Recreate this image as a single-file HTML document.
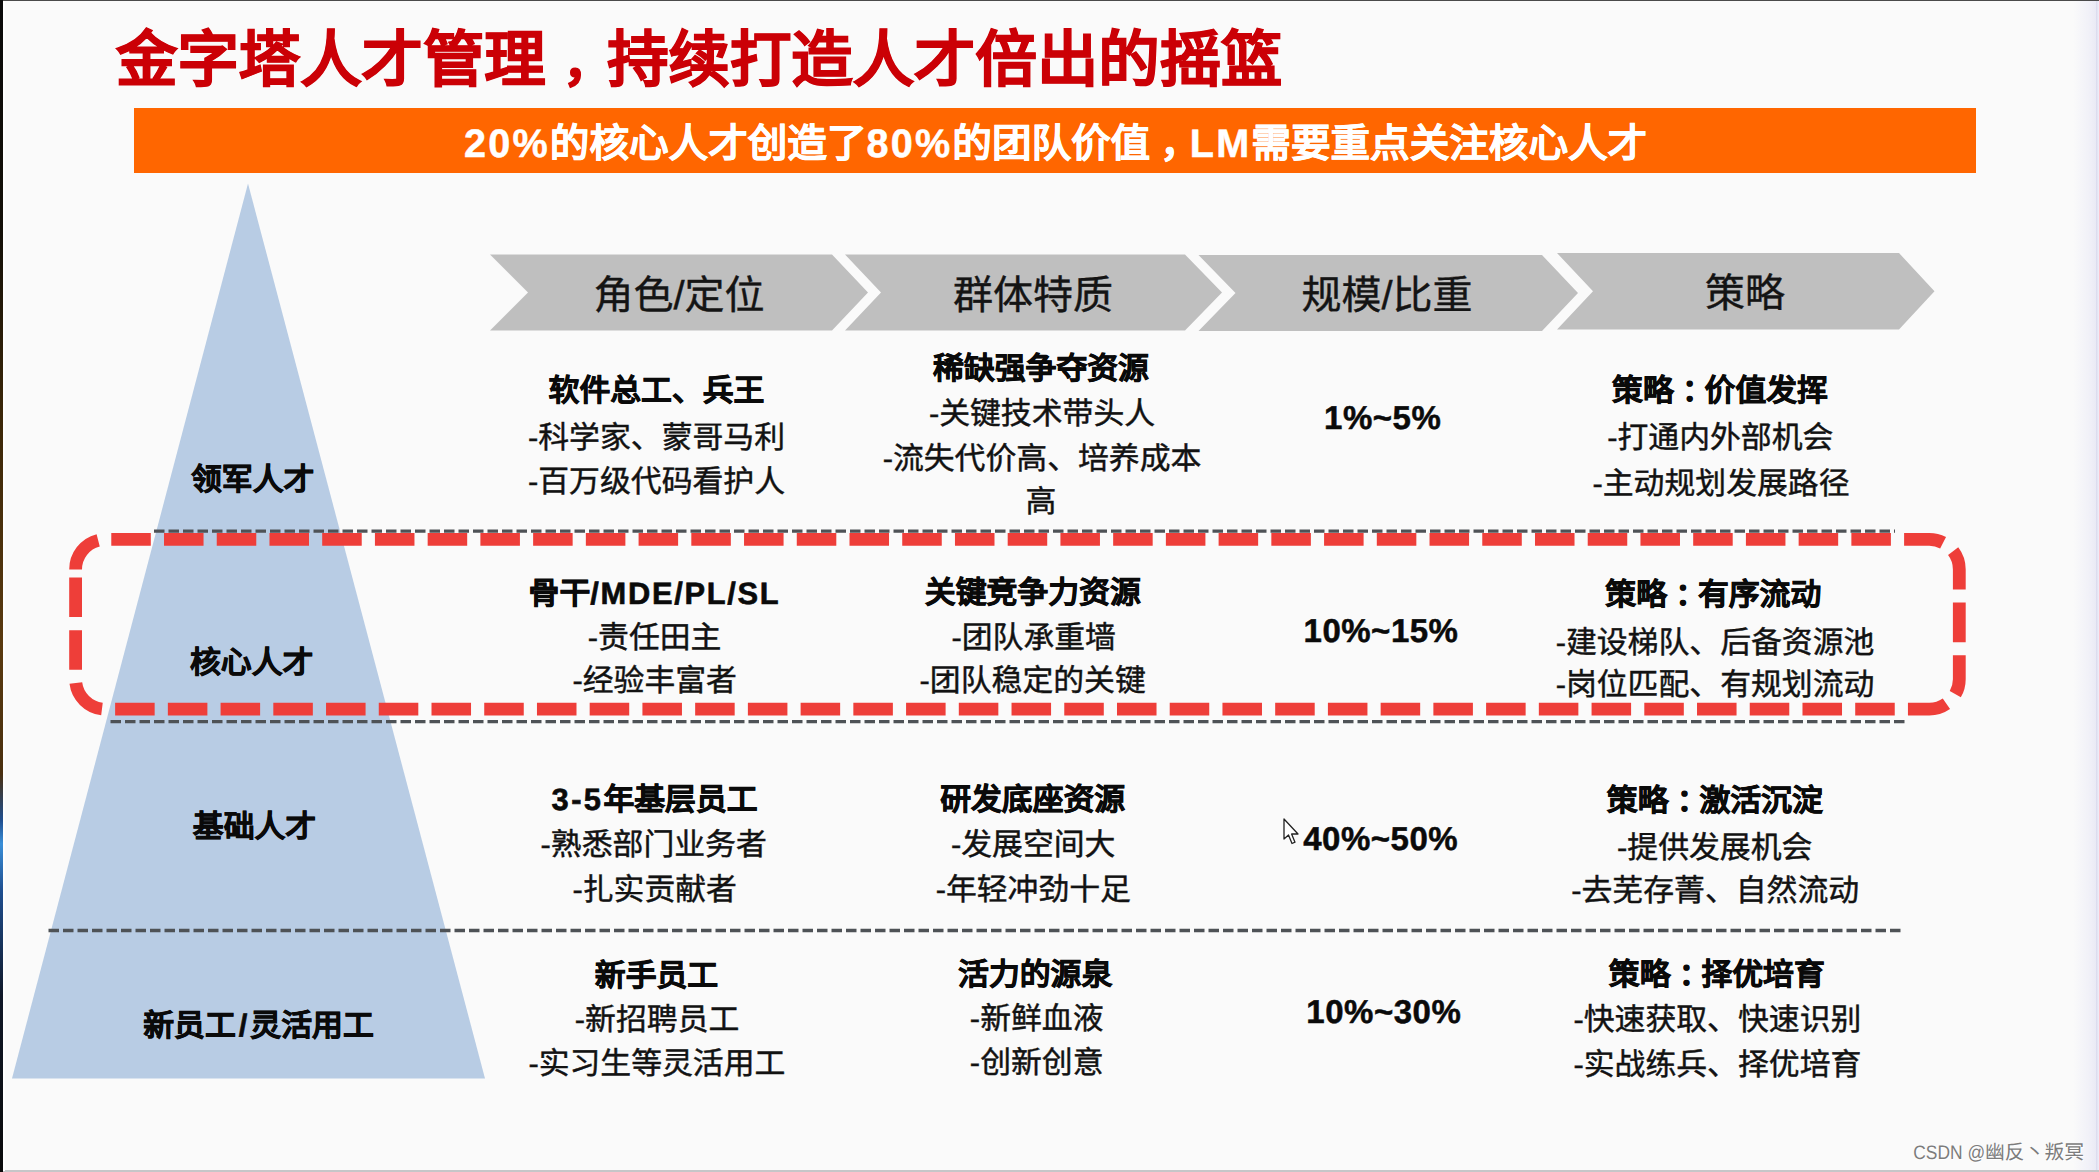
<!DOCTYPE html>
<html lang="zh-CN">
<head>
<meta charset="utf-8">
<title>金字塔人才管理</title>
<style>
html,body{margin:0;padding:0;}
body{width:2099px;height:1172px;overflow:hidden;background:#fafafa;font-family:"Liberation Sans",sans-serif;color:#111;text-rendering:geometricPrecision;}
#stage{position:relative;width:2099px;height:1172px;overflow:hidden;background:#fafafa;}
.abs{position:absolute;}
.t{position:absolute;white-space:nowrap;transform:translate(-50%,-50%);line-height:1;font-size:30.85px;color:#121212;-webkit-text-stroke:0.45px #121212;margin-top:0.5px;}
.b{font-weight:700;color:#0a0a0a;-webkit-text-stroke:0.6px #0a0a0a;margin-top:1px;}
.n{font-weight:700;font-size:33px;color:#0a0a0a;-webkit-text-stroke:0.5px #0a0a0a;letter-spacing:0.5px;}
.c{position:relative;left:0.27em;}
.la{letter-spacing:1.7px;}
.sl{margin:0 3px;}
#title{position:absolute;left:116px;top:29.5px;font-size:61.4px;font-weight:700;color:#cb0006;-webkit-text-stroke:1px #cb0006;white-space:nowrap;line-height:61px;}
#title .c{left:0.32em;font-size:0.85em;margin-right:0.1765em;}
#banner{position:absolute;left:134px;top:108px;width:1842px;height:65px;background:#ff6600;}
#bannertxt{position:absolute;left:464px;top:144.5px;transform:translate(0,-50%);font-size:39.6px;font-weight:700;color:#fff;-webkit-text-stroke:0.5px #fff;white-space:nowrap;line-height:1;}
#bannertxt .la{letter-spacing:2.2px;}
#bannertxt .c{left:0.25em;}
.ch{position:absolute;white-space:nowrap;transform:translate(-50%,-50%);line-height:1;font-size:40px;color:#141414;-webkit-text-stroke:0.4px #141414;}
#wm{position:absolute;right:15px;top:1140.5px;font-size:19.8px;color:#7c7c7c;white-space:nowrap;line-height:24px;text-shadow:0 0 1px #fff,1px 1px 1px #fff;}
#wm .wl{display:inline-block;font-size:17.4px;transform:scale(1,1.12);transform-origin:50% 78%;white-space:pre;}
</style>
</head>
<body>
<div id="stage">

<div class="abs" style="left:2073px;top:0;width:26px;height:1172px;background:linear-gradient(90deg,#fafafa 0%,#f1f1f8 60%,#eaeaf5 88%,#dcdcee 90%,#f0f0fa 100%);"></div>
<div class="abs" style="left:0;top:0;width:2099px;height:1px;background:#4a4a4a;"></div>
<div class="abs" style="left:0;top:1170px;width:2099px;height:2px;background:#c6c6c8;"></div>
<div class="abs" style="left:2.5px;top:1px;width:2px;height:1170px;background:#ffffff;"></div>
<div class="abs" style="left:0;top:0;width:2.5px;height:1172px;background:linear-gradient(180deg,#0a0a0a 0%,#141008 20%,#3a2608 35%,#5a3a10 55%,#4a3010 66%,#1f4f90 70%,#3a8fd8 72%,#1f4f90 76%,#101828 85%,#0a0a0a 100%);"></div>
<div id="title">金字塔人才管理<span class="c">，</span>持续打造人才倍出的摇篮</div>
<div id="banner"></div><div id="bannertxt"><span class="la">20%</span>的核心人才创造了<span class="la">80%</span>的团队价值<span class="c">，</span><span class="la">LM</span>需要重点关注核心人才</div>
<svg class="abs" style="left:0;top:0" width="2099" height="1172" viewBox="0 0 2099 1172">
<polygon points="248,183.5 485,1078.5 12,1078.5" fill="#b8cce4"/>
<polygon points="490,254.5 832,254.5 868,292.5 832,330.5 490,330.5 528,292.5" fill="#bfbfbf"/>
<polygon points="845,254.5 1185,254.5 1222,292.5 1185,330.5 845,330.5 881,292.5" fill="#bfbfbf"/>
<polygon points="1198.5,255 1542,255 1578,293.0 1542,331 1198.5,331 1235.5,293.0" fill="#bfbfbf"/>
<polygon points="1557,253 1899,253 1934.5,291.25 1899,329.5 1557,329.5 1593,291.25" fill="#bfbfbf"/>
<line x1="154" y1="531.2" x2="1895" y2="531.2" stroke="#4e5256" stroke-width="3.3" stroke-dasharray="10.5 4"/>
<line x1="110.5" y1="721.7" x2="1905" y2="721.7" stroke="#4e5256" stroke-width="3.3" stroke-dasharray="10.5 4"/>
<line x1="48.5" y1="930.5" x2="1903.5" y2="930.5" stroke="#4e5256" stroke-width="3.3" stroke-dasharray="10.5 4"/>
<path d="M75.6,569.4 A30,30 0 0 1 105.6,539.4 H1929.3 A30,30 0 0 1 1959.3,569.4 V679.2 A30,30 0 0 1 1929.3,709.2 H105.6 A30,30 0 0 1 75.6,679.2 Z" fill="none" stroke="#ee3e39" stroke-width="12.8" stroke-dasharray="39.53 13.2"/>
</svg>
<div class="ch" style="left:679px;top:296px">角色/定位</div>
<div class="ch" style="left:1033px;top:296px">群体特质</div>
<div class="ch" style="left:1387px;top:296px">规模/比重</div>
<div class="ch" style="left:1745px;top:294px">策略</div>
<div class="t b" style="left:656.5px;top:390px">软件总工、兵王</div>
<div class="t" style="left:656.5px;top:437.4px">-科学家、蒙哥马利</div>
<div class="t" style="left:656.5px;top:481.2px">-百万级代码看护人</div>
<div class="t b" style="left:1041px;top:368px">稀缺强争夺资源</div>
<div class="t" style="left:1042px;top:413.2px">-关键技术带头人</div>
<div class="t" style="left:1042px;top:458.2px">-流失代价高、培养成本</div>
<div class="t" style="left:1041px;top:501.6px">高</div>
<div class="t n" style="left:1382.7px;top:416px">1%~5%</div>
<div class="t b" style="left:1720px;top:390px">策略<span class=c>：</span>价值发挥</div>
<div class="t" style="left:1720.3px;top:437.4px">-打通内外部机会</div>
<div class="t" style="left:1721px;top:483px">-主动规划发展路径</div>
<div class="t b" style="left:654.5px;top:592.7px">骨干<span class=la>/MDE/PL/SL</span></div>
<div class="t" style="left:654.6px;top:637.3px">-责任田主</div>
<div class="t" style="left:654.7px;top:680.8px">-经验丰富者</div>
<div class="t b" style="left:1032.8px;top:591.6px">关键竞争力资源</div>
<div class="t" style="left:1033.7px;top:637.3px">-团队承重墙</div>
<div class="t" style="left:1032.7px;top:680.8px">-团队稳定的关键</div>
<div class="t n" style="left:1381px;top:629px">10%~15%</div>
<div class="t b" style="left:1713.3px;top:594px">策略<span class=c>：</span>有序流动</div>
<div class="t" style="left:1715px;top:642.4px">-建设梯队、后备资源池</div>
<div class="t" style="left:1715px;top:684.5px">-岗位匹配、有规划流动</div>
<div class="t b" style="left:654.6px;top:799px"><span class=la style=letter-spacing:2.4px>3-5</span>年基层员工</div>
<div class="t" style="left:653.7px;top:844.7px">-熟悉部门业务者</div>
<div class="t" style="left:654.7px;top:889.3px">-扎实贡献者</div>
<div class="t b" style="left:1032.7px;top:799px">研发底座资源</div>
<div class="t" style="left:1033.2px;top:844.7px">-发展空间大</div>
<div class="t" style="left:1033.3px;top:889px">-年轻冲劲十足</div>
<div class="t n" style="left:1380.7px;top:837.3px">40%~50%</div>
<div class="t b" style="left:1714.8px;top:800px">策略<span class=c>：</span>激活沉淀</div>
<div class="t" style="left:1714.7px;top:847.3px">-提供发展机会</div>
<div class="t" style="left:1715.2px;top:890.8px">-去芜存菁、自然流动</div>
<div class="t b" style="left:656.5px;top:974.6px">新手员工</div>
<div class="t" style="left:657.1px;top:1019.2px">-新招聘员工</div>
<div class="t" style="left:656.9px;top:1063.8px">-实习生等灵活用工</div>
<div class="t b" style="left:1035.2px;top:974px">活力的源泉</div>
<div class="t" style="left:1036.7px;top:1018px">-新鲜血液</div>
<div class="t" style="left:1036.7px;top:1062px">-创新创意</div>
<div class="t n" style="left:1383.8px;top:1010.8px">10%~30%</div>
<div class="t b" style="left:1716.8px;top:974.2px">策略<span class=c>：</span>择优培育</div>
<div class="t" style="left:1717.4px;top:1019.2px">-快速获取、快速识别</div>
<div class="t" style="left:1717.4px;top:1064.2px">-实战练兵、择优培育</div>
<div class="t b" style="left:252.7px;top:479px">领军人才</div>
<div class="t b" style="left:251.7px;top:662px">核心人才</div>
<div class="t b" style="left:254.5px;top:826px">基础人才</div>
<div class="t b" style="left:258.5px;top:1024.5px">新员工<span class=sl>/</span>灵活用工</div>
<svg class="abs" style="left:1283px;top:818px" width="18" height="28" viewBox="0 0 18 28"><path d="M1,1 L1,21 L5.5,17 L9,25.5 L12,24.2 L8.6,16 L15,16 Z" fill="#fff" stroke="#222" stroke-width="1.3" stroke-linejoin="round"/></svg>
<div id="wm"><span class="wl">CSDN @</span>幽反丶叛冥</div>
</div>
</body>
</html>
